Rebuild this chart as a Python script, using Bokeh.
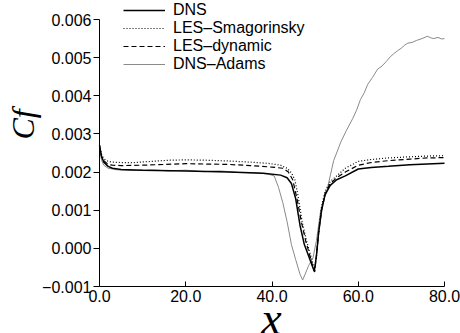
from math import pi
from bokeh.plotting import figure
from bokeh.models import (Range1d, FixedTicker, CustomJSTickFormatter, Legend,
                          LegendItem, Label)
from bokeh.embed import file_html
from bokeh.resources import INLINE

# ---- data ----
x_dns = [0, 0.5, 1, 2, 3, 5, 10, 20, 30, 38, 42, 43.5, 44.5, 45.5, 46.5, 47.5,
         48.5, 49.3, 49.8, 50.3, 50.8, 51.5, 52.3, 53.5, 55, 57, 60, 63, 67,
         72, 76, 80]
cf_dns = [0.0027, 0.0024, 0.00226, 0.00215, 0.0021, 0.00207, 0.00205, 0.00203,
          0.00200, 0.00197, 0.00192, 0.00185, 0.0017, 0.0013, 0.0006, 0.0001,
          -0.0002, -0.00045, -0.0006, -0.0002, 0.0004, 0.0010, 0.0014, 0.00165,
          0.0018, 0.0019, 0.00208, 0.00212, 0.00215, 0.00219, 0.00221, 0.00223]

x_smag = [0, 0.5, 1, 2, 3, 5, 8, 12, 16, 20, 25, 30, 35, 39, 42, 43.5, 44.5,
          45.3, 46, 47, 48, 49, 49.5, 49.9, 50.3, 50.8, 51.5, 52.3, 53.5, 55,
          57, 60, 63, 67, 72, 76, 80]
cf_smag = [0.0027, 0.00245, 0.00235, 0.00228, 0.00226, 0.00225, 0.00225,
           0.00228, 0.00231, 0.00232, 0.00231, 0.00229, 0.00226, 0.00223,
           0.00218, 0.0021, 0.00198, 0.0018, 0.0014, 0.0007, 0.0002, -0.0002,
           -0.0004, -0.00058, -0.0002, 0.0004, 0.0011, 0.0015, 0.00175, 0.0019,
           0.0021, 0.00228, 0.00233, 0.00237, 0.0024, 0.00242, 0.00243]

x_dyn = [0, 0.5, 1, 2, 3, 5, 10, 15, 20, 25, 30, 35, 40, 42.5, 43.8, 44.8, 45.8,
         46.8, 47.8, 48.8, 49.5, 49.9, 50.3, 50.8, 51.5, 52.3, 53.5, 55, 57, 60,
         63, 67, 72, 76, 80]
cf_dyn = [0.0027, 0.0024, 0.0023, 0.0022, 0.00218, 0.00217, 0.00218, 0.0022,
          0.00222, 0.00221, 0.0022, 0.00217, 0.00213, 0.0021, 0.002, 0.0018,
          0.0013, 0.0007, 0.0002, -0.0002, -0.0005, -0.00062, -0.0002, 0.0004,
          0.001, 0.00142, 0.0017, 0.00185, 0.002, 0.00218, 0.00225, 0.0023,
          0.00234, 0.00237, 0.00238]

x_adams = [0, 0.5, 1, 2, 4, 8, 12, 16, 20, 24, 28, 32, 36, 39, 40.5, 41.5, 42.5,
           43.5, 44.5, 45.5, 46.5, 47.1, 47.6, 48.5, 49.5, 50.3, 51.3, 52.9,
           54.3, 56, 57.3, 58.7, 59.6, 60.5, 61.4, 62.2, 63.3, 64.5, 65.5, 66.5,
           67.4, 68.2, 69.1, 70, 70.8, 71.5, 72.5, 73.5, 74.8, 76, 76.8, 77.5,
           78.5, 79.3, 80]
cf_adams = [0.0026, 0.0023, 0.00218, 0.0021, 0.00206, 0.00204, 0.00206, 0.00203,
            0.00205, 0.00201, 0.00203, 0.00199, 0.00198, 0.00195, 0.0019,
            0.0016, 0.0012, 0.0007, 0.0001, -0.0003, -0.00068, -0.00083,
            -0.0007, -0.00045, -0.00025, 0.0002, 0.001, 0.0016, 0.0023, 0.0028,
            0.0031, 0.0034, 0.00362, 0.0039, 0.00408, 0.0043, 0.00448, 0.0047,
            0.00478, 0.0049, 0.00502, 0.0051, 0.00518, 0.00525, 0.00533,
            0.00538, 0.0054, 0.00545, 0.0055, 0.00556, 0.00552, 0.0055, 0.00553,
            0.00549, 0.0055]

series_names = ["DNS", "LES\u2013Smagorinsky", "LES\u2013dynamic", "DNS\u2013Adams"]
y_ticks = [-0.001, 0.0, 0.001, 0.002, 0.003, 0.004, 0.005, 0.006]
x_ticks = [0, 20, 40, 60, 80]
x_lo, x_hi = 0, 80
y_lo, y_hi = -0.001, 0.006

# ---- layout: frame fills the canvas, axes pinned at the data origin ----
W, H = 460, 333
left_px, right_px, top_px, bottom_px = 99, 444, 19, 286
xs = (x_hi - x_lo) / (right_px - left_px)
ys = (y_hi - y_lo) / (bottom_px - top_px)

p = figure(width=W, height=H, output_backend="svg", toolbar_location=None,
           x_range=Range1d(x_lo - left_px * xs, x_hi + (W - right_px) * xs),
           y_range=Range1d(y_lo - (H - bottom_px) * ys, y_hi + top_px * ys),
           min_border=0)
p.outline_line_color = None
p.xgrid.grid_line_color = None
p.ygrid.grid_line_color = None
p.background_fill_color = "white"
p.border_fill_color = "white"

r_adams = p.line(x_adams, cf_adams, line_color="#8a8a8a", line_width=1)
r_dyn = p.line(x_dyn, cf_dyn, line_color="black", line_width=1.2, line_dash="5 3")
r_smag = p.line(x_smag, cf_smag, line_color="black", line_width=1.2, line_dash="1 2")
r_dns = p.line(x_dns, cf_dns, line_color="black", line_width=1.5)

# axes
xa = p.xaxis[0]
xa.fixed_location = y_lo
xa.bounds = (x_lo, x_hi)
xa.ticker = FixedTicker(ticks=x_ticks)
xa.formatter = CustomJSTickFormatter(code="return tick.toFixed(1);")
xa.major_tick_in = 5
xa.major_tick_out = 0
xa.minor_tick_line_color = None
xa.axis_line_color = "black"
xa.major_tick_line_color = "black"
xa.major_label_text_font = "Liberation Sans"
xa.major_label_text_font_size = "16px"
xa.major_label_text_color = "black"
xa.major_label_standoff = 3

ya = p.yaxis[0]
ya.fixed_location = x_lo
ya.bounds = (y_lo, y_hi)
ya.ticker = FixedTicker(ticks=y_ticks)
ya.formatter = CustomJSTickFormatter(
    code="return tick.toFixed(3).replace('-', '\\u2212');")
ya.major_tick_in = 0
ya.major_tick_out = 6
ya.minor_tick_line_color = None
ya.axis_line_color = "black"
ya.major_tick_line_color = "black"
ya.major_label_text_font = "Liberation Sans"
ya.major_label_text_font_size = "16px"
ya.major_label_text_color = "black"
ya.major_label_standoff = 2

# axis titles (screen units from the frame's bottom-left corner)
p.add_layout(Label(x=22, y=H - 124, x_units="screen", y_units="screen",
                   text="Cf", angle=pi / 2, text_align="center",
                   text_baseline="alphabetic", text_font="Liberation Serif",
                   text_font_style="italic", text_font_size="32px",
                   text_color="black"))
p.add_layout(Label(x=271, y=15, x_units="screen", y_units="screen",
                   text="x", text_align="center", text_baseline="alphabetic",
                   text_font="Liberation Serif", text_font_style="italic",
                   text_font_size="46px", text_color="black"))

legend = Legend(items=[LegendItem(label=series_names[0], renderers=[r_dns]),
                       LegendItem(label=series_names[1], renderers=[r_smag]),
                       LegendItem(label=series_names[2], renderers=[r_dyn]),
                       LegendItem(label=series_names[3], renderers=[r_adams])],
                location=(123, H - 73), border_line_color=None,
                background_fill_alpha=0, padding=0, margin=0, spacing=-3,
                glyph_width=42, glyph_height=16, label_height=16,
                label_standoff=8, label_text_font="Liberation Sans",
                label_text_font_size="16px", label_text_color="black")
p.add_layout(legend)

open("out.html", "w").write(file_html(p, INLINE))
